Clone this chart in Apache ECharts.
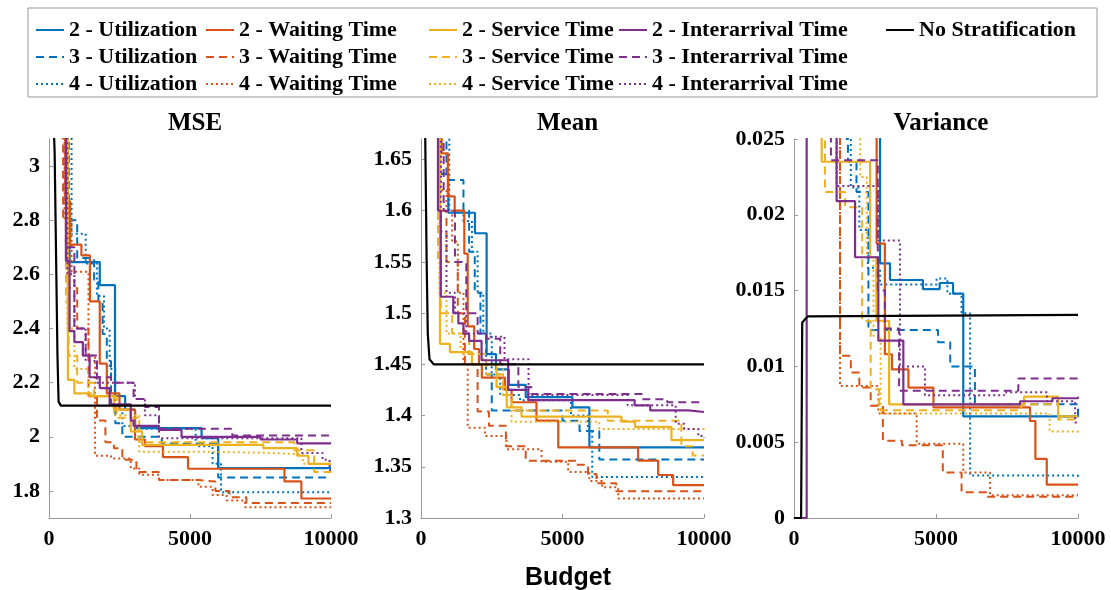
<!DOCTYPE html>
<html>
<head>
<meta charset="utf-8">
<script src="https://cdn.jsdelivr.net/npm/echarts@6/dist/echarts.min.js"></script>
<style>
html, body { margin: 0; background: #fff; }
#main { width: 1111px; height: 590px; }
</style>
</head>
<body>
<div id="main"></div>
<script>
// [budget, value] pairs
// MSE
var mse_u2 = [[450,3.4],[600,2.86],[730,2.645],[1800,2.56],[2340,2.15],[2700,2.1],[3050,2.032],[5410,1.995],[6000,1.884],[10000,1.884]];
var mse_u3 = [[450,3.4],[700,2.8],[1000,2.66],[1600,2.58],[1750,2.5],[1900,2.38],[2050,2.28],[2200,2.12],[2350,2.05],[2600,2.0],[4000,1.975],[6000,1.85],[10000,1.85]];
var mse_u4 = [[450,3.4],[800,2.75],[1300,2.64],[1700,2.52],[1950,2.4],[2150,2.25],[2350,2.1],[2600,2.04],[3300,2.03],[5200,1.965],[5800,1.9],[6100,1.795],[10000,1.795]];
var mse_w2 = [[400,3.4],[580,2.87],[750,2.71],[1150,2.67],[1450,2.5],[1800,2.27],[2050,2.16],[2500,2.1],[3050,1.99],[3400,1.965],[4040,1.925],[4930,1.882],[8350,1.835],[8950,1.772],[10000,1.772]];
var mse_w3 = [[350,3.4],[500,2.8],[700,2.55],[1000,2.4],[1400,2.15],[1700,2.06],[2000,1.98],[2300,1.958],[2600,1.915],[3100,1.87],[3900,1.84],[5300,1.835],[5900,1.8],[6400,1.777],[7000,1.755],[10000,1.755]];
var mse_w4 = [[350,3.4],[550,2.8],[800,2.61],[1400,2.3],[1630,1.93],[2200,1.92],[2900,1.883],[3200,1.86],[3900,1.84],[5300,1.815],[5800,1.785],[6300,1.765],[6950,1.74],[10000,1.74]];
var mse_s2 = [[500,3.4],[670,2.21],[900,2.16],[1500,2.15],[2300,2.1],[2900,2.02],[3300,1.97],[7600,1.958],[8800,1.93],[9200,1.9],[10000,1.9]];
var mse_s3 = [[450,3.4],[600,2.5],[700,2.3],[1000,2.2],[1600,2.15],[2400,2.07],[3200,1.98],[8700,1.95],[9400,1.87],[10000,1.86]];
var mse_s4 = [[450,3.4],[650,2.4],[900,2.25],[1400,2.15],[2300,2.08],[3200,1.945],[5500,1.94],[8000,1.935],[9000,1.9],[10000,1.89]];
var mse_i2 = [[450,3.4],[600,2.65],[730,2.39],[900,2.35],[1200,2.3],[1440,2.22],[1800,2.18],[2150,2.12],[2900,2.06],[3000,2.04],[3900,2.025],[4700,2.0],[7500,1.99],[8800,1.976],[10000,1.976]];
var mse_i3 = [[450,3.4],[600,2.7],[900,2.4],[1300,2.3],[1700,2.22],[2200,2.2],[3000,2.14],[3400,2.11],[3900,2.03],[6500,2.005],[10000,2.005]];
var mse_i4 = [[450,3.4],[650,2.6],[900,2.4],[1300,2.28],[1700,2.2],[2600,2.2],[3050,2.14],[3400,2.08],[3900,1.995],[8950,1.94],[9700,1.915],[9950,1.877],[10000,1.877]];
var mse_none = [[150,3.2],[200,3.05],[260,2.6],[300,2.3],[340,2.13],[420,2.115],[10000,2.115]];

// Mean
var mean_u2 = [[500,1.72],[671,1.636],[965,1.598],[1907,1.578],[2319,1.46],[2650,1.445],[3100,1.43],[3700,1.418],[5350,1.408],[5950,1.369],[10000,1.369]];
var mean_u3 = [[500,1.72],[900,1.63],[1500,1.6],[1700,1.56],[1900,1.52],[2100,1.48],[2300,1.44],[2500,1.405],[3300,1.405],[5000,1.395],[5600,1.385],[6300,1.357],[10000,1.357]];
var mean_u4 = [[500,1.72],[1000,1.6],[1500,1.59],[1800,1.56],[2000,1.52],[2200,1.48],[2500,1.44],[2800,1.42],[3500,1.415],[5300,1.4],[5900,1.385],[6050,1.34],[10000,1.338]];
var mean_w2 = [[450,1.72],[730,1.656],[950,1.614],[1190,1.6],[1530,1.558],[1650,1.487],[1880,1.465],[2050,1.45],[2150,1.437],[2970,1.425],[3200,1.413],[4080,1.395],[4850,1.369],[7670,1.356],[8380,1.342],[8910,1.332],[10000,1.332]];
var mean_w3 = [[450,1.72],[650,1.6],[900,1.55],[1300,1.5],[1550,1.45],[2000,1.404],[2400,1.39],[3000,1.37],[3700,1.356],[5500,1.352],[5900,1.343],[6200,1.334],[6900,1.326],[10000,1.326]];
var mean_w4 = [[450,1.72],[700,1.62],[900,1.6],[1100,1.57],[1300,1.52],[1500,1.45],[1650,1.388],[2260,1.38],[3020,1.367],[4260,1.355],[5200,1.345],[5950,1.336],[6400,1.33],[6970,1.319],[10000,1.319]];
var mean_s2 = [[450,1.72],[670,1.47],[1020,1.462],[1800,1.45],[2670,1.428],[3030,1.408],[3550,1.399],[7080,1.394],[7560,1.389],[8850,1.376],[10000,1.376]];
var mean_s3 = [[400,1.72],[600,1.55],[700,1.5],[1100,1.48],[1700,1.46],[2300,1.44],[2900,1.42],[3200,1.405],[6600,1.395],[9200,1.37],[9600,1.361],[10000,1.361]];
var mean_s4 = [[450,1.72],[650,1.52],[900,1.48],[1400,1.46],[2200,1.45],[2900,1.42],[3200,1.394],[6300,1.387],[10000,1.385]];
var mean_i2 = [[450,1.72],[600,1.6],[700,1.516],[1140,1.5],[1320,1.49],[1500,1.48],[1700,1.473],[2140,1.454],[3080,1.425],[3790,1.415],[7550,1.41],[8100,1.405],[9450,1.4035],[10000,1.4035]];
var mean_i3 = [[450,1.72],[800,1.6],[1200,1.55],[1600,1.5],[2000,1.48],[2300,1.475],[2800,1.45],[3440,1.428],[3900,1.421],[7800,1.416],[8700,1.413],[10000,1.413]];
var mean_i4 = [[450,1.72],[700,1.58],[900,1.52],[1200,1.5],[1600,1.48],[2300,1.477],[2950,1.455],[3800,1.42],[7300,1.41],[9000,1.392],[9300,1.387],[9800,1.38],[10000,1.378]];
var mean_none = [[120,1.75],[150,1.67],[200,1.55],[240,1.48],[300,1.455],[450,1.45],[10000,1.45]];

// Variance
var var_u2 = [[500,0.04],[3030,0.0168],[3380,0.0157],[4540,0.0151],[5130,0.0155],[5600,0.0148],[5960,0.0067],[10000,0.0067]];
var var_u3 = [[500,0.04],[1900,0.0235],[2200,0.0215],[2620,0.0124],[5070,0.0116],[5500,0.01],[6370,0.0075],[10000,0.0065]];
var var_u4 = [[500,0.04],[1800,0.025],[2000,0.0218],[2300,0.019],[2600,0.0165],[3030,0.0154],[5020,0.0158],[5400,0.0148],[5900,0.0135],[6200,0.0028],[10000,0.0026]];
var var_w2 = [[500,0.04],[2910,0.0181],[3200,0.0108],[3450,0.0098],[4030,0.0086],[4910,0.0073],[8310,0.0064],[8500,0.0039],[8900,0.0022],[10000,0.0022]];
var var_w3 = [[400,0.04],[1620,0.0107],[2000,0.0096],[2300,0.0086],[2700,0.0074],[3130,0.0051],[3800,0.0048],[5240,0.003],[5900,0.0017],[6800,0.0014],[10000,0.0014]];
var var_w4 = [[400,0.04],[1620,0.0087],[2970,0.0069],[4320,0.0049],[5960,0.003],[6900,0.0015],[10000,0.0015]];
var var_s2 = [[450,0.04],[975,0.0235],[2680,0.0172],[2900,0.013],[3350,0.0075],[8100,0.008],[9300,0.0067],[10000,0.0067]];
var var_s3 = [[450,0.04],[1090,0.0215],[1800,0.0205],[2400,0.013],[2700,0.0085],[3000,0.0071],[8000,0.0075],[9300,0.0065],[10000,0.0064]];
var var_s4 = [[450,0.04],[2330,0.0225],[2560,0.0172],[2800,0.012],[3050,0.0069],[8600,0.0069],[9000,0.0057],[10000,0.0055]];
var var_i2 = [[0,0],[446,0.05],[1500,0.0209],[2150,0.0172],[2970,0.0117],[3850,0.0075],[7960,0.0077],[9100,0.0079],[10000,0.008]];
var var_i3 = [[450,0.04],[1300,0.0236],[2950,0.015],[3200,0.0125],[3700,0.0084],[7900,0.0092],[10000,0.0092]];
var var_i4 = [[450,0.04],[1500,0.0219],[2970,0.0183],[3730,0.01],[4610,0.0081],[7400,0.0083],[8900,0.0077],[9900,0.0063],[10000,0.0063]];
var var_none = [[0,0],[250,0],[290,0.0129],[480,0.0133],[10000,0.0134]];

var mseTicks = [1.8, 2, 2.2, 2.4, 2.6, 2.8, 3];
var meanTicks = [1.3, 1.35, 1.4, 1.45, 1.5, 1.55, 1.6, 1.65];
var titles = ['MSE', 'Mean', 'Variance'];

var colors = { u: '#0072BD', w: '#D95319', s: '#EDB120', i: '#7E2F8E' };
var labels = { u: 'Utilization', w: 'Waiting Time', s: 'Service Time', i: 'Interarrival Time' };
var dashes = { 2: 'solid', 3: [8, 5], 4: [2, 3] };

var panels = [
   { u2: mse_u2, u3: mse_u3, u4: mse_u4, w2: mse_w2, w3: mse_w3, w4: mse_w4,
     s2: mse_s2, s3: mse_s3, s4: mse_s4, i2: mse_i2, i3: mse_i3, i4: mse_i4, none: mse_none },
   { u2: mean_u2, u3: mean_u3, u4: mean_u4, w2: mean_w2, w3: mean_w3, w4: mean_w4,
     s2: mean_s2, s3: mean_s3, s4: mean_s4, i2: mean_i2, i3: mean_i3, i4: mean_i4, none: mean_none },
   { u2: var_u2, u3: var_u3, u4: var_u4, w2: var_w2, w3: var_w3, w4: var_w4,
     s2: var_s2, s3: var_s3, s4: var_s4, i2: var_i2, i3: var_i3, i4: var_i4, none: var_none }
];

var serif = 'Liberation Serif';
var series = [];
panels.forEach(function (p, k) {
   ['u', 'w', 's', 'i'].forEach(function (f) {
      [2, 3, 4].forEach(function (n) {
         series.push({
            name: n + ' - ' + labels[f],
            type: 'line',
            step: 'end',
            symbol: 'none',
            xAxisIndex: k, yAxisIndex: k,
            data: p[f + n],
            lineStyle: { color: colors[f], width: n === 2 ? 2.2 : 2, type: dashes[n] },
            itemStyle: { color: colors[f] },
            emphasis: { disabled: true }
         });
      });
   });
   series.push({
      name: 'No Stratification',
      type: 'line',
      symbol: 'none',
      xAxisIndex: k, yAxisIndex: k,
      data: p.none,
      z: 5,
      lineStyle: { color: '#000', width: 2.2 },
      itemStyle: { color: '#000' },
      emphasis: { disabled: true }
   });
});

var grids = [
   { left: 49, top: 139, width: 282, height: 379 },
   { left: 421, top: 139, width: 283, height: 379 },
   { left: 794, top: 139, width: 284, height: 379 }
];

var tickFont = { color: '#000', fontFamily: serif, fontWeight: 'bold', fontSize: 22 };
var axisLine = { show: true, lineStyle: { color: '#999', width: 1 } };
var axisTick = { show: true, inside: true, length: 4, lineStyle: { color: '#999' } };
var plain = function (v) { return String(v); };

var xAxes = grids.map(function (g, k) {
   return {
      type: 'value', gridIndex: k, min: 0, max: 10000, interval: 5000,
      splitLine: { show: false },
      axisLine: axisLine, axisTick: axisTick,
      axisLabel: Object.assign({ margin: 10, formatter: plain }, tickFont)
   };
});

var yAxes = [
   { type: 'value', gridIndex: 0, min: 1.7, max: 3.1,
     axisLabel: Object.assign({ margin: 9, customValues: mseTicks, formatter: plain }, tickFont),
     axisTick: Object.assign({ customValues: mseTicks }, axisTick) },
   { type: 'value', gridIndex: 1, min: 1.3, max: 1.67,
     axisLabel: Object.assign({ margin: 9, customValues: meanTicks, formatter: plain }, tickFont),
     axisTick: Object.assign({ customValues: meanTicks }, axisTick) },
   { type: 'value', gridIndex: 2, min: 0, max: 0.025, interval: 0.005,
     axisLabel: Object.assign({ margin: 9, formatter: plain }, tickFont),
     axisTick: axisTick }
];
yAxes.forEach(function (a) {
   a.splitLine = { show: false };
   a.axisLine = axisLine;
});

// legend: one vertical block per column, line sample only
function col(left, names) {
   return {
      orient: 'vertical', left: left, top: 14,
      itemWidth: 28, itemHeight: 14, itemGap: 5,
      itemStyle: { opacity: 0 },
      textStyle: { color: '#000', fontFamily: serif, fontWeight: 'bold', fontSize: 22, lineHeight: 22 },
      data: names
   };
}

var option = {
   animation: false,
   backgroundColor: '#fff',
   grid: grids,
   xAxis: xAxes,
   yAxis: yAxes,
   title: titles.map(function (t, k) {
      return {
         text: t, left: grids[k].left + grids[k].width / 2, top: 106, textAlign: 'center',
         textStyle: { color: '#000', fontFamily: serif, fontWeight: 'bold', fontSize: 25 }
      };
   }).concat([{
      text: 'Budget', left: 563, top: 561, textAlign: 'center',
      textStyle: { color: '#000', fontFamily: 'Liberation Sans', fontWeight: 'bold', fontSize: 25 }
   }]),
   legend: [
      col(30, ['2 - Utilization', '3 - Utilization', '4 - Utilization']),
      col(200, ['2 - Waiting Time', '3 - Waiting Time', '4 - Waiting Time']),
      col(423, ['2 - Service Time', '3 - Service Time', '4 - Service Time']),
      col(613, ['2 - Interarrival Time', '3 - Interarrival Time', '4 - Interarrival Time']),
      col(880, ['No Stratification'])
   ],
   graphic: [{
      type: 'rect', z: -1,
      shape: { x: 28, y: 8, width: 1069, height: 89 },
      style: { fill: 'none', stroke: '#999', lineWidth: 1 }
   }],
   series: series
};

var myChart = echarts.init(document.getElementById('main'));
myChart.setOption(option);
</script>
</body>
</html>
